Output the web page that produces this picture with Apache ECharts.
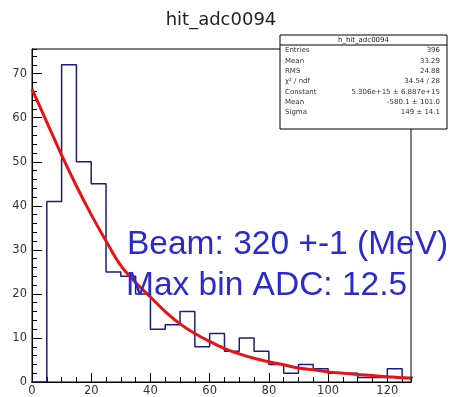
<!DOCTYPE html>
<html>
<head>
<meta charset="utf-8">
<script src="https://cdn.jsdelivr.net/npm/echarts@6/dist/echarts.min.js"></script>
<style>
  html, body { margin: 0; padding: 0; background: #fff; }
  #chart { width: 450px; height: 397px; }
</style>
</head>
<body>
<div id="chart"></div>
<script>
// Histogram bins (low edge, width 5) and their counts
const binLow = [5, 10, 15, 20, 25, 30, 35, 40, 45, 50, 55, 60, 65, 70, 75, 80, 85, 90, 95, 100, 105, 110, 115, 120, 125];
const counts = [41, 72, 50, 45, 25, 24, 20, 12, 13, 16, 8, 11, 7, 10, 7, 4, 2, 4, 3, 2, 2, 1, 1, 3, 1];
const binWidth = 5;

// Fitted curve, sampled along x
const fitX = [0, 5, 10, 15, 20, 25, 30, 35, 40, 45, 50, 55, 60, 65, 70, 75, 80, 85, 90, 95, 100, 105, 110, 115, 120, 125, 128];
const fitY = [66.5, 59, 51.5, 44.5, 38, 32, 26.4, 22.6, 19.3, 16, 13.2, 11, 9.2, 7.6, 6.4, 5.4, 4.6, 3.9, 3.2, 2.75, 2.3, 2.0, 1.7, 1.45, 1.2, 0.95, 0.85];

// Axis ranges and tick spacing
const xRange = [0, 128];
const yRange = [0, 75.6];
const xMajorStep = 20, xMinorStep = 5;
const yMajorStep = 10, yMinorStep = 2;

// Stats box rows
const statsTitle = 'h_hit_adc0094';
const statsLabels = ['Entries', 'Mean', 'RMS', 'χ² / ndf', 'Constant', 'Mean', 'Sigma'];
const statsValues = ['396', '33.29', '24.88', '34.54 / 28', '5.306e+15 ± 6.887e+15', '-580.1 ± 101.0', '149 ± 14.1'];

const histTitle = 'hit_adc0094';
const noteLines = ['Beam: 320 +-1 (MeV)', 'Max bin ADC: 12.5'];

// Step outline: start at the axis, one point per bin, close back to zero
const histData = [[0, 0]];
binLow.forEach((x, i) => histData.push([x, counts[i]]));
histData.push([binLow[binLow.length - 1] + binWidth, 0]);

const fitData = fitX.map((x, i) => [x, fitY[i]]);

const labelFont = { fontFamily: 'DejaVu Sans', fontSize: 11.5, color: '#333' };

const chart = echarts.init(document.getElementById('chart'), null, { renderer: 'canvas' });

// Statistics panel in the top-right corner
const stats = [];
const bx = 280, by = 35, bw = 167, bh = 94, rowH = 10.3;
const statFont = '7px "DejaVu Sans"';
stats.push({ type: 'rect', shape: { x: bx, y: by, width: bw, height: bh }, style: { fill: '#fff', stroke: '#000', lineWidth: 1 }, z: 100 });
stats.push({ type: 'line', shape: { x1: bx, y1: by + 10, x2: bx + bw, y2: by + 10 }, style: { stroke: '#000', lineWidth: 1 }, z: 101 });
stats.push({ type: 'text', x: bx + bw / 2, y: by + 5, style: { text: statsTitle, font: statFont, fill: '#222', align: 'center', verticalAlign: 'middle' }, z: 101 });
statsLabels.forEach((t, i) => {
  const yy = by + 15.5 + i * rowH;
  stats.push({ type: 'text', x: bx + 5, y: yy, style: { text: t, font: statFont, fill: '#333', align: 'left', verticalAlign: 'middle' }, z: 101 });
  stats.push({ type: 'text', x: bx + bw - 7, y: yy, style: { text: statsValues[i], font: statFont, fill: '#333', align: 'right', verticalAlign: 'middle' }, z: 101 });
});

// One axis carries labels and long ticks, a twin carries the short ticks
function valueAxis(range, step, tickLen, withLabels, margin) {
  return {
    type: 'value', min: range[0], max: range[1], interval: step,
    axisLine: { show: true, onZero: false, lineStyle: { color: '#000', width: 1 } },
    splitLine: { show: false },
    axisTick: { show: true, inside: true, length: tickLen, lineStyle: { color: '#000', width: 1 } },
    axisLabel: withLabels ? Object.assign({ margin: margin, showMaxLabel: false }, labelFont) : { show: false }
  };
}

const option = {
  animation: false,
  backgroundColor: '#fff',
  grid: { left: 32, right: 39, top: 49, bottom: 14, show: true, borderColor: '#000', borderWidth: 1, backgroundColor: 'transparent' },
  xAxis: [
    Object.assign(valueAxis(xRange, xMajorStep, 9, true, 3), { position: 'bottom', offset: 0 }),
    Object.assign(valueAxis(xRange, xMinorStep, 5, false, 0), { position: 'bottom', offset: 0 })
  ],
  yAxis: [
    Object.assign(valueAxis(yRange, yMajorStep, 10, true, 5), { position: 'left', offset: 0 }),
    Object.assign(valueAxis(yRange, yMinorStep, 5, false, 0), { position: 'left', offset: 0 })
  ],
  series: [
    {
      type: 'line', data: histData, step: 'end', symbol: 'none', clip: true,
      lineStyle: { color: '#1c1c7c', width: 1.5 }, z: 3
    },
    {
      type: 'line', data: fitData, smooth: 0.35, symbol: 'none', clip: true,
      lineStyle: { color: '#e81414', width: 3 }, z: 4
    }
  ],
  graphic: [
    { type: 'text', x: 221, y: 20, style: { text: histTitle, font: '18px "DejaVu Sans"', fill: '#222', align: 'center', verticalAlign: 'middle' }, z: 100 },
    { type: 'text', x: 127, y: 245, style: { text: noteLines[0], font: '33.5px "Liberation Sans"', fill: '#2a2ad0', align: 'left', verticalAlign: 'middle' }, z: 102 },
    { type: 'text', x: 126, y: 286, style: { text: noteLines[1], font: '33.5px "Liberation Sans"', fill: '#2a2ad0', align: 'left', verticalAlign: 'middle' }, z: 102 }
  ].concat(stats)
};

chart.setOption(option);
</script>
</body>
</html>
